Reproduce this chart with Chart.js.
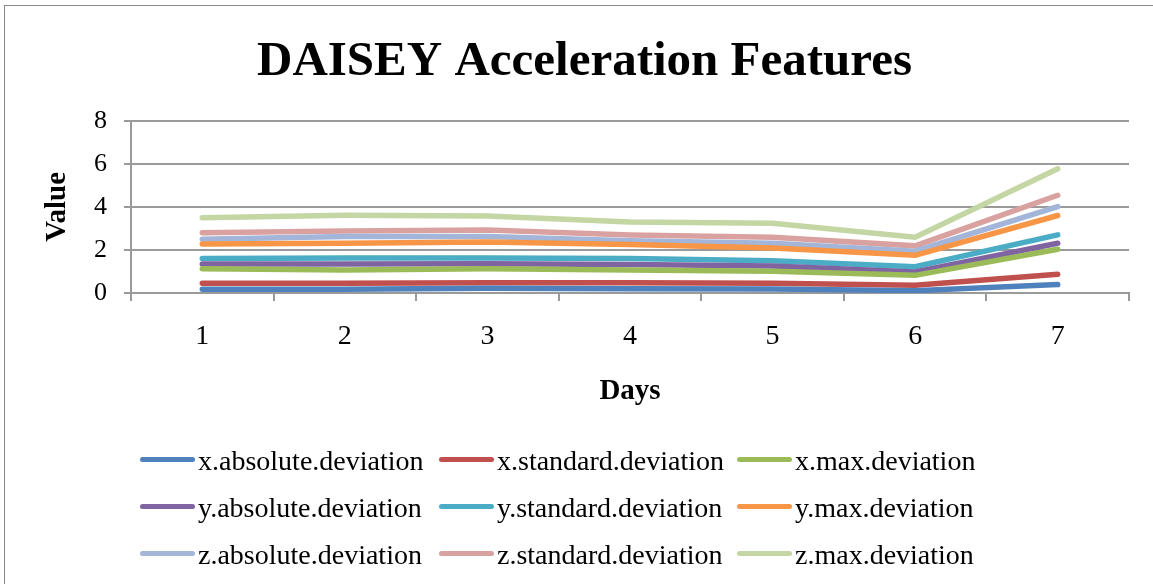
<!DOCTYPE html>
<html>
<head>
<meta charset="utf-8">
<script src="https://cdn.jsdelivr.net/npm/chart.js@4"></script>
<style>
  html, body { margin: 0; padding: 0; background: #fff; }
  #wrap { position: relative; width: 1153px; height: 584px; overflow: hidden; }
  #frame { position: absolute; left: 4px; top: 5px; width: 1160px; height: 600px; border: 1px solid #8a8a8a; box-sizing: border-box; }
  #legend { position: absolute; left: 140px; top: 437px; display: grid; grid-template-columns: 299px 298px auto;
            font-family: "Liberation Serif", serif; font-size: 28px; color: #000; }
  #legend .item { display: flex; align-items: center; height: 47px; white-space: nowrap; }
  #legend .sw { width: 55px; height: 5px; border-radius: 3px; margin-right: 3px; margin-top: -3px; }
</style>
</head>
<body>
<div id="wrap">
  <canvas id="chart" width="1153" height="584"></canvas>
  <div id="frame"></div>
  <div id="legend"></div>
</div>
<script>
const days = ['1', '2', '3', '4', '5', '6', '7'];

const xAbsolute = [0.17, 0.17, 0.22, 0.20, 0.19, 0.11, 0.39];
const xStandard = [0.45, 0.45, 0.48, 0.48, 0.45, 0.36, 0.87];
const xMax      = [1.13, 1.07, 1.13, 1.07, 1.01, 0.82, 2.03];
const yAbsolute = [1.35, 1.35, 1.36, 1.32, 1.26, 0.98, 2.31];
const yStandard = [1.60, 1.63, 1.63, 1.60, 1.50, 1.22, 2.70];
const yMax      = [2.28, 2.31, 2.37, 2.25, 2.09, 1.75, 3.60];
const zAbsolute = [2.50, 2.62, 2.62, 2.43, 2.31, 1.94, 4.01];
const zStandard = [2.80, 2.88, 2.93, 2.70, 2.59, 2.19, 4.54];
const zMax      = [3.50, 3.61, 3.58, 3.30, 3.24, 2.59, 5.77];

const yTicks = [0, 2, 4, 6, 8];

const series = [
    ['x.absolute.deviation', xAbsolute, '#4f81bd'],
    ['x.standard.deviation', xStandard, '#c0504d'],
    ['x.max.deviation', xMax, '#9bbb59'],
    ['y.absolute.deviation', yAbsolute, '#8064a2'],
    ['y.standard.deviation', yStandard, '#4bacc6'],
    ['y.max.deviation', yMax, '#f79646'],
    ['z.absolute.deviation', zAbsolute, '#a3b6d9'],
    ['z.standard.deviation', zStandard, '#d9a2a0'],
    ['z.max.deviation', zMax, '#c3d6a3']
];

const serif = '"Liberation Serif", serif';

const chart = new Chart(document.getElementById('chart').getContext('2d'), {
    type: 'line',
    data: {
        labels: days,
        datasets: series.map(([label, data, color]) => ({
            label: label,
            data: data,
            borderColor: color,
            backgroundColor: color,
            borderWidth: 5.5,
            pointRadius: 0,
            tension: 0,
            borderCapStyle: 'round',
            fill: false
        }))
    },
    options: {
        responsive: false,
        animation: false,
        layout: { padding: { left: 40, right: 24, top: 0, bottom: 175 } },
        plugins: {
            legend: { display: false },
            tooltip: { enabled: false },
            title: {
                display: true,
                text: 'DAISEY Acceleration Features',
                color: '#000',
                font: { family: serif, size: 49, weight: 'bold' },
                padding: { top: 33, bottom: 29 }
            }
        },
        scales: {
            x: {
                offset: true,
                afterFit: (axis) => { axis.height = 116; },
                grid: { display: true, offset: true, drawOnChartArea: false, color: '#9a9a9a', lineWidth: 2, tickLength: 8 },
                border: { color: '#9a9a9a', width: 2 },
                ticks: { color: '#000', font: { family: serif, size: 28 }, padding: 19 },
                title: { display: true, text: 'Days', color: '#000', font: { family: serif, size: 29, weight: 'bold' }, padding: 0 }
            },
            y: {
                min: 0,
                max: 8,
                afterBuildTicks: (axis) => { axis.ticks = yTicks.map(v => ({ value: v })); },
                afterFit: (axis) => { axis.width = 91; },
                grid: { color: '#9a9a9a', lineWidth: 2, tickLength: 7 },
                border: { color: '#9a9a9a', width: 2 },
                ticks: { color: '#000', font: { family: serif, size: 26 }, padding: 17 },
                title: { display: true, text: 'Value', color: '#000', font: { family: serif, size: 29, weight: 'bold' }, padding: 0 }
            }
        }
    }
});

const legend = document.getElementById('legend');
chart.data.datasets.forEach(ds => {
    const item = document.createElement('div');
    item.className = 'item';
    const sw = document.createElement('span');
    sw.className = 'sw';
    sw.style.background = ds.borderColor;
    item.appendChild(sw);
    item.appendChild(document.createTextNode(ds.label));
    legend.appendChild(item);
});
</script>
</body>
</html>
